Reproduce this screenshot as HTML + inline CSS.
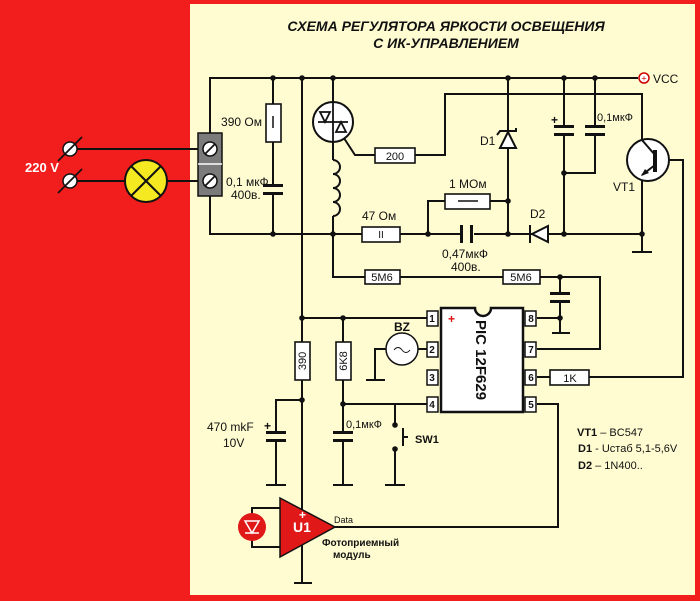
<!DOCTYPE html>
<html><head><meta charset="utf-8"><style>
html,body{margin:0;padding:0;background:#f21e1e}
svg{display:block}
text{font-family:"Liberation Sans",sans-serif;fill:#111}
</style></head><body>
<svg width="700" height="601" viewBox="0 0 700 601" xmlns="http://www.w3.org/2000/svg">
<rect x="0" y="0" width="700" height="601" fill="#f21e1e"/>
<rect x="190" y="4" width="505" height="591" fill="#fffcd2"/>
<text x="446" y="31" text-anchor="middle" font-size="14" font-weight="bold" font-style="italic">СХЕМА РЕГУЛЯТОРА ЯРКОСТИ ОСВЕЩЕНИЯ</text>
<text x="446" y="48" text-anchor="middle" font-size="14" font-weight="bold" font-style="italic">С ИК-УПРАВЛЕНИЕМ</text>
<g stroke="#111" stroke-width="2" fill="none">
<line x1="70" y1="149" x2="200" y2="149"/>
<line x1="70" y1="181" x2="200" y2="181"/>
<polyline points="210,133 210,78 638,78"/>
<polyline points="210,196 210,234 362,234"/>
<line x1="400" y1="234" x2="460" y2="234"/>
<line x1="474" y1="234" x2="642" y2="234"/>
<line x1="273" y1="78" x2="273" y2="186"/>
<line x1="273" y1="193" x2="273" y2="234"/>
<line x1="302" y1="78" x2="302" y2="583"/>
<line x1="294" y1="583" x2="312" y2="583"/>
<line x1="333" y1="78" x2="333" y2="102"/>
<line x1="333" y1="142" x2="333" y2="160"/>
<path d="M333,160 a7,7 0 0 1 0,14 a7,7 0 0 1 0,14 a7,7 0 0 1 0,14 a7,7 0 0 1 0,14"/>
<polyline points="333,216 333,277 365,277"/>
<polyline points="340,132 355,155 375,155"/>
<polyline points="415,155 445,155 445,94 642,94 642,145"/>
<polyline points="428,234 428,201 445,201"/>
<line x1="490" y1="201" x2="508" y2="201"/>
<line x1="508" y1="78" x2="508" y2="234"/>
<line x1="564" y1="78" x2="564" y2="126"/>
<line x1="564" y1="134" x2="564" y2="234"/>
<line x1="595" y1="78" x2="595" y2="126"/>
<polyline points="595,134 595,173 564,173"/>
<line x1="642" y1="175" x2="642" y2="252"/>
<line x1="632" y1="252" x2="652" y2="252"/>
<polyline points="656,160 683,160 683,377 589,377"/>
<line x1="400" y1="277" x2="503" y2="277"/>
<polyline points="540,277 600,277 600,349 537,349"/>
<line x1="560" y1="277" x2="560" y2="293"/>
<line x1="560" y1="300" x2="560" y2="333"/>
<line x1="552" y1="333" x2="570" y2="333"/>
<line x1="537" y1="318" x2="560" y2="318"/>
<line x1="537" y1="377" x2="550" y2="377"/>
<line x1="302" y1="318" x2="427" y2="318"/>
<line x1="343" y1="318" x2="343" y2="432"/>
<line x1="343" y1="440" x2="343" y2="485"/>
<line x1="333" y1="485" x2="353" y2="485"/>
<line x1="343" y1="404" x2="427" y2="404"/>
<line x1="395" y1="404" x2="395" y2="425"/>
<line x1="395" y1="449" x2="395" y2="485"/>
<line x1="385" y1="485" x2="405" y2="485"/>
<line x1="403" y1="428" x2="403" y2="446"/>
<line x1="403" y1="437" x2="408" y2="437"/>
<line x1="418" y1="349" x2="427" y2="349"/>
<polyline points="386,349 375,349 375,380"/>
<line x1="366" y1="380" x2="385" y2="380"/>
<polyline points="302,400 276,400 276,432"/>
<line x1="276" y1="440" x2="276" y2="485"/>
<line x1="266" y1="485" x2="286" y2="485"/>
<polyline points="537,404 558,404 558,527 335,527"/>
<polyline points="280,508 252,508 252,547 280,547"/>
</g>
<g fill="#111">
<rect x="263" y="184" width="20" height="3"/><rect x="263" y="192" width="20" height="3"/>
<rect x="460" y="225" width="3" height="18"/><rect x="470" y="225" width="3" height="18"/>
<rect x="554" y="125" width="20" height="3"/><rect x="554" y="133" width="20" height="3"/>
<rect x="585" y="125" width="20" height="3"/><rect x="585" y="133" width="20" height="3"/>
<rect x="550" y="292" width="20" height="3"/><rect x="550" y="300" width="20" height="3"/>
<rect x="333" y="431" width="20" height="3"/><rect x="333" y="439" width="20" height="3"/>
<rect x="266" y="431" width="20" height="3"/><rect x="266" y="439" width="20" height="3"/>
</g>
<g fill="#fff" stroke="#111" stroke-width="1.6">
<rect x="266" y="104" width="15" height="38"/>
<rect x="362" y="227" width="38" height="15"/>
<rect x="375" y="148" width="40" height="15"/>
<rect x="445" y="194" width="45" height="15"/>
<rect x="365" y="270" width="35" height="14"/>
<rect x="503" y="270" width="37" height="14"/>
<rect x="295" y="342" width="15" height="38"/>
<rect x="336" y="342" width="15" height="38"/>
<rect x="550" y="370" width="39" height="15"/>
</g>
<g font-size="11" text-anchor="middle">
<text x="395" y="160">200</text>
<text x="382" y="281">5M6</text>
<text x="521" y="281">5M6</text>
<text x="570" y="382">1K</text>
<text x="381" y="238" font-size="10">II</text>
<text transform="translate(306,361) rotate(-90)" text-anchor="middle">390</text>
<text transform="translate(347,361) rotate(-90)" text-anchor="middle">6K8</text>
</g>
<line x1="273" y1="116" x2="273" y2="128" stroke="#111" stroke-width="1.5"/>
<line x1="458" y1="201" x2="478" y2="201" stroke="#111" stroke-width="1.5"/>
<circle cx="333" cy="122" r="20" fill="#fff" stroke="#111" stroke-width="2"/>
<g stroke="#111" stroke-width="1.8" fill="none">
<line x1="318" y1="122" x2="348" y2="122"/>
<path d="M320,112 L330,112 L325,122 Z M336,132 L346,132 L341,122 Z"/>
<line x1="333" y1="102" x2="333" y2="142"/>
</g>
<path d="M500,148 L516,148 L508,132 Z" fill="#fff" stroke="#111" stroke-width="2"/>
<polyline points="497,135 500,131 516,131 516,128" fill="none" stroke="#111" stroke-width="2"/>
<path d="M548,226 L548,242 L532,234 Z" fill="#fff" stroke="#111" stroke-width="2"/>
<line x1="530" y1="225" x2="530" y2="243" stroke="#111" stroke-width="2"/>
<circle cx="648" cy="160" r="21" fill="#fff" stroke="#111" stroke-width="2"/>
<g stroke="#111" stroke-width="2">
<line x1="655" y1="150" x2="655" y2="172" stroke-width="4"/>
<line x1="642" y1="140" x2="655" y2="155"/>
<line x1="655" y1="165" x2="642" y2="175"/>
</g>
<path d="M641,176 L645,169 L649,173 Z" fill="#111"/>
<circle cx="644" cy="78" r="5" fill="#fff" stroke="#c00" stroke-width="1.5"/>
<text x="644" y="81.5" font-size="9" text-anchor="middle" style="fill:#c00">+</text>
<text x="653" y="83" font-size="12">VCC</text>
<g fill="#fff" stroke="#111" stroke-width="1.5">
<rect x="427" y="311" width="11" height="15"/><rect x="427" y="342" width="11" height="15"/>
<rect x="427" y="370" width="11" height="15"/><rect x="427" y="397" width="11" height="15"/>
<rect x="525" y="311" width="11" height="15"/><rect x="525" y="342" width="11" height="15"/>
<rect x="525" y="370" width="11" height="15"/><rect x="525" y="397" width="11" height="15"/>
</g>
<path d="M441,308 L475,308 A8,8 0 0 0 491,308 L523,308 L523,412 L441,412 Z" fill="#fff" stroke="#111" stroke-width="2.5"/>
<g font-size="10" font-weight="bold" text-anchor="middle">
<text x="432" y="322">1</text><text x="432" y="353">2</text><text x="432" y="381">3</text><text x="432" y="408">4</text>
<text x="531" y="322">8</text><text x="531" y="353">7</text><text x="531" y="381">6</text><text x="531" y="408">5</text>
</g>
<text x="448" y="323" font-size="12" font-weight="bold" style="fill:#e01010">+</text>
<text transform="translate(476,360) rotate(90)" text-anchor="middle" font-size="15" font-weight="bold">PIC 12F629</text>
<circle cx="402" cy="349" r="16" fill="#fff" stroke="#111" stroke-width="1.5"/>
<path d="M394,350 q4,-5 8,0 q4,5 8,0" fill="none" stroke="#111" stroke-width="1"/>
<text x="402" y="331" font-size="12" font-weight="bold" text-anchor="middle">BZ</text>
<g fill="#111">
<circle cx="273" cy="78" r="2.8"/><circle cx="302" cy="78" r="2.8"/><circle cx="333" cy="78" r="2.8"/>
<circle cx="508" cy="78" r="2.8"/><circle cx="564" cy="78" r="2.8"/><circle cx="595" cy="78" r="2.8"/>
<circle cx="273" cy="234" r="2.8"/><circle cx="333" cy="234" r="2.8"/><circle cx="428" cy="234" r="2.8"/>
<circle cx="508" cy="201" r="2.8"/><circle cx="508" cy="234" r="2.8"/><circle cx="564" cy="234" r="2.8"/>
<circle cx="564" cy="173" r="2.8"/><circle cx="642" cy="234" r="2.8"/>
<circle cx="560" cy="277" r="2.8"/><circle cx="560" cy="318" r="2.8"/>
<circle cx="302" cy="318" r="2.8"/><circle cx="343" cy="318" r="2.8"/>
<circle cx="302" cy="400" r="2.8"/><circle cx="343" cy="404" r="2.8"/>
<circle cx="395" cy="425" r="2.8"/><circle cx="395" cy="449" r="2.8"/>
</g>
<rect x="198" y="133" width="24" height="63" fill="#7b7b7b" stroke="#111" stroke-width="1.5"/>
<line x1="198" y1="164" x2="222" y2="164" stroke="#fff" stroke-width="1.5"/>
<g fill="#fff" stroke="#111" stroke-width="1.5">
<circle cx="210" cy="149" r="7"/><circle cx="210" cy="181" r="7"/>
<circle cx="70" cy="149" r="7"/><circle cx="70" cy="181" r="7"/>
</g>
<g stroke="#111" stroke-width="1.8">
<line x1="205" y1="154" x2="215" y2="144"/><line x1="205" y1="186" x2="215" y2="176"/>
<line x1="58" y1="161" x2="82" y2="137"/><line x1="58" y1="193" x2="82" y2="169"/>
</g>
<circle cx="146" cy="181" r="21" fill="#f5ea21" stroke="#111" stroke-width="2"/>
<line x1="131" y1="166" x2="161" y2="196" stroke="#111" stroke-width="2"/>
<line x1="161" y1="166" x2="131" y2="196" stroke="#111" stroke-width="2"/>
<text x="25" y="172" font-size="13" font-weight="bold" style="fill:#fff">220 V</text>
<path d="M280,498 L335,527 L280,557 Z" fill="#e01818" stroke="#111" stroke-width="1.5"/>
<circle cx="252" cy="527" r="14" fill="#e01818"/>
<path d="M245,521 L259,521 L252,533 Z M245,533 L259,533" fill="none" stroke="#fff" stroke-width="1.5"/>
<text x="293" y="532" font-size="14" font-weight="bold" style="fill:#fff">U1</text>
<text x="299" y="519" font-size="12" font-weight="bold" style="fill:#fff">+</text>
<text x="334" y="523" font-size="9">Data</text>
<text x="322" y="546" font-size="10" font-weight="bold">Фотоприемный</text>
<text x="333" y="558" font-size="10" font-weight="bold">модуль</text>
<g font-size="12">
<text x="262" y="126" text-anchor="end">390 Ом</text>
<text x="226" y="186">0,1 мкФ</text>
<text x="231" y="199">400в.</text>
<text x="362" y="220">47 Ом</text>
<text x="449" y="188">1 МОм</text>
<text x="442" y="258">0,47мкФ</text>
<text x="451" y="271">400в.</text>
<text x="480" y="145">D1</text>
<text x="530" y="218">D2</text>
<text x="597" y="121" font-size="11">0,1мкФ</text>
<text x="551" y="124" font-weight="bold">+</text>
<text x="613" y="191">VT1</text>
<text x="207" y="431">470 mkF</text>
<text x="223" y="447">10V</text>
<text x="264" y="430" font-weight="bold">+</text>
<text x="346" y="428" font-size="11">0,1мкФ</text>
<text x="415" y="443" font-weight="bold" font-size="11">SW1</text>
</g>
<g font-size="11">
<text x="577" y="436"><tspan font-weight="bold">VT1</tspan> – BC547</text>
<text x="578" y="452"><tspan font-weight="bold">D1</tspan> -   Uстаб 5,1-5,6V</text>
<text x="578" y="469"><tspan font-weight="bold">D2</tspan> – 1N400..</text>
</g>
</svg>
</body></html>
